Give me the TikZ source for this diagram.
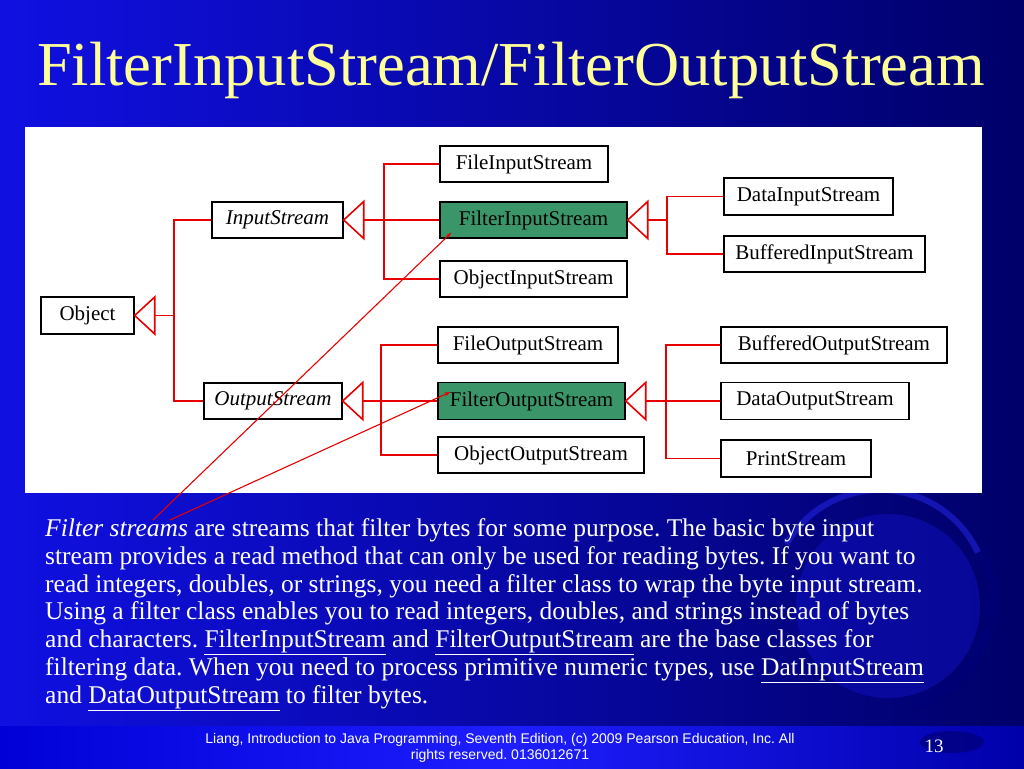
\documentclass[tikz,border=0pt]{standalone}
\usepackage{fontspec}
\setmainfont{Liberation Serif}
\setsansfont{Liberation Sans}
\usetikzlibrary{calc,arrows.meta}
\frenchspacing
\definecolor{bgl}{RGB}{16,16,226}
\definecolor{bgr}{RGB}{0,0,105}
\definecolor{barl}{RGB}{0,0,215}
\definecolor{barm}{RGB}{30,30,255}
\definecolor{barr}{RGB}{0,0,170}
\definecolor{titlec}{RGB}{255,255,153}
\definecolor{boxgreen}{RGB}{58,150,104}
\definecolor{lnred}{RGB}{232,0,0}
\definecolor{globec}{RGB}{20,20,215}
\definecolor{ringc}{RGB}{0,0,120}
\definecolor{rimc}{RGB}{40,40,240}
\newcommand\inhtri[1]{\draw[tri] (#1.east) -- ++(20,-18.5) -- ++(0,37) -- cycle;}
\begin{document}
\begin{tikzpicture}[x=1pt,y=-1pt,
  cls/.style={draw=black,line width=1.4pt,fill=white,inner sep=0pt,
    font=\fontsize{21}{24}\selectfont,text=black},
  hl/.style={cls,fill=boxgreen},
  inh/.style={draw=lnred,line width=1.6pt},
  tri/.style={draw=lnred,line width=1.6pt,fill=white,line join=miter},
  note/.style={draw=lnred,line width=1.1pt,-{Stealth[length=6pt,width=4pt]}}
]
\useasboundingbox (0,0) rectangle (1024,768);
% background
\fill[left color=bgl,right color=bgr] (0,0) rectangle (1024,768);
% globe decoration
\fill[globec,opacity=0.4] (888,606) circle[radius=92];
\draw[ringc,line width=11pt,opacity=0.7] (880,598) ++(72:112) arc[start angle=72,end angle=-25,radius=112];
\draw[rimc,line width=6pt,opacity=0.5] (880,598) ++(-25:108) arc[start angle=-25,end angle=-150,radius=108];
% footer bar
\fill[left color=barl,right color=barr,middle color=barm] (0,726) rectangle (1024,768);
\fill[ringc,opacity=0.7] (952,742) ellipse[x radius=32,y radius=11];
% title
\node[font=\fontsize{62.5}{70}\selectfont,text=titlec,anchor=base] (title) at (511,85) {FilterInputStream/FilterOutputStream};
% panel
\fill[white] (25,127) rectangle (982,493);
% classes
\node[cls,minimum width=93pt,minimum height=37pt] (obj) at (87.5,315.5) {Object};
\node[cls,minimum width=131pt,minimum height=36pt] (ins) at (277.5,220) {\itshape InputStream};
\node[cls,minimum width=138pt,minimum height=36pt] (outs) at (273,401) {\itshape OutputStream};
\node[cls,minimum width=168pt,minimum height=36pt] (fis) at (524,164) {FileInputStream};
\node[hl,minimum width=187pt,minimum height=36pt] (filtis) at (533.5,220) {FilterInputStream};
\node[cls,minimum width=187pt,minimum height=36pt] (ois) at (533.5,279) {ObjectInputStream};
\node[cls,minimum width=180pt,minimum height=36pt] (fos) at (528,345) {FileOutputStream};
\node[hl,minimum width=187pt,minimum height=37pt] (filtos) at (531.5,401) {FilterOutputStream};
\node[cls,minimum width=206pt,minimum height=36pt] (oos) at (541,455) {ObjectOutputStream};
\node[cls,minimum width=169pt,minimum height=37pt] (dis) at (808.5,196.5) {DataInputStream};
\node[cls,minimum width=201pt,minimum height=36pt] (bis) at (824.5,254) {BufferedInputStream};
\node[cls,minimum width=226pt,minimum height=36pt] (bos) at (834,345) {BufferedOutputStream};
\node[cls,minimum width=188pt,minimum height=37pt] (dos) at (815,401) {DataOutputStream};
\node[cls,minimum width=150pt,minimum height=37pt] (ps) at (796,458.5) {PrintStream};
% inheritance: Object
\coordinate (objT) at ($(obj.east)+(39,0)$);
\draw[inh] ($(obj.east)+(20,0)$) -- (objT);
\draw[inh] (ins.west) -| (objT);
\draw[inh] (outs.west) -| (objT);
\inhtri{obj}
% InputStream
\coordinate (insT) at ($(ins.east)+(40,0)$);
\draw[inh] ($(ins.east)+(20,0)$) -- (insT);
\draw[inh] (fis.west) -| (insT);
\draw[inh] (filtis.west) -- (insT);
\draw[inh] (ois.west) -| (insT);
\inhtri{ins}
% OutputStream
\coordinate (outsT) at ($(outs.east)+(38,0)$);
\draw[inh] ($(outs.east)+(20,0)$) -- (outsT);
\draw[inh] (fos.west) -| (outsT);
\draw[inh] (filtos.west) -- (outsT);
\draw[inh] (oos.west) -| (outsT);
\inhtri{outs}
% FilterInputStream
\coordinate (filtisT) at ($(filtis.east)+(39,0)$);
\draw[inh] ($(filtis.east)+(20,0)$) -- (filtisT);
\draw[inh] (dis.west) -| (filtisT);
\draw[inh] (bis.west) -| (filtisT);
\inhtri{filtis}
% FilterOutputStream
\coordinate (filtosT) at ($(filtos.east)+(40,0)$);
\draw[inh] ($(filtos.east)+(20,0)$) -- (filtosT);
\draw[inh] (bos.west) -| (filtosT);
\draw[inh] (dos.west) -- (filtosT);
\draw[inh] (ps.west) -| (filtosT);
\inhtri{filtos}
% body text (base anchor = baseline of the last line)
\node[anchor=base west,align=left,text=white,inner sep=0pt,
  font=\fontsize{25.5}{27.7}\selectfont] (body) at (45,703)
{\textit{Filter streams} are streams that filter bytes for some purpose. The basic byte input\\
stream provides a read method that can only be used for reading bytes. If you want to\\
read integers, doubles, or strings, you need a filter class to wrap the byte input stream.\\
Using a filter class enables you to read integers, doubles, and strings instead of bytes\\
and characters. \underline{FilterInputStream} and \underline{FilterOutputStream} are the base classes for\\
filtering data. When you need to process primitive numeric types, use \underline{DatInputStream}\\
and \underline{DataOutputStream} to filter bytes.};
% annotation lines
\coordinate (fsA) at (153,520);
\coordinate (fsB) at (170,520);
\draw[note] (fsA) -- ($(filtis.south west)+(12,-6)$);
\draw[note] (fsB) -- ($(filtos.west)+(13,-9)$);
% footer
\node[font=\sffamily\fontsize{14}{16.5}\selectfont,text=white,align=center] (foot) at (500,748)
{Liang, Introduction to Java Programming, Seventh Edition, (c) 2009 Pearson Education, Inc. All\\rights reserved. 0136012671};
\node[font=\fontsize{19}{21}\selectfont,text=white,anchor=base] (pg) at (934,752) {13};
\end{tikzpicture}
\end{document}
